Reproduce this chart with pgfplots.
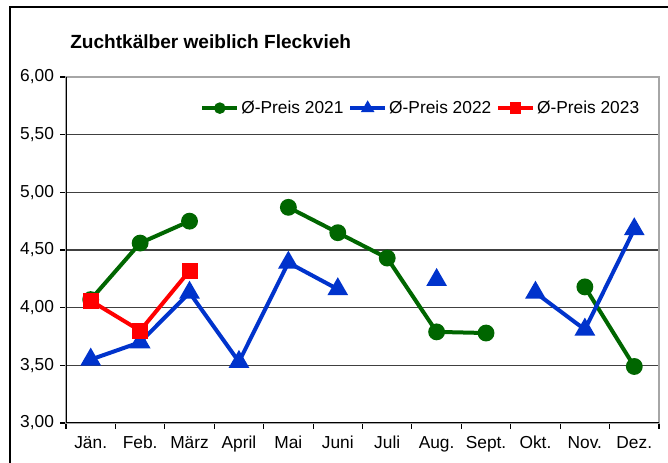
\documentclass[border=0pt]{standalone}
\usepackage{pgfplots}
\pgfplotsset{compat=1.18}
\usepackage{fontspec}
\setmainfont{Liberation Sans}
\definecolor{cgreen}{RGB}{0,102,0}
\definecolor{cblue}{RGB}{0,51,204}
\definecolor{cred}{RGB}{255,0,0}
\begin{document}
\begin{tikzpicture}[x=0.75pt,y=0.75pt]
\useasboundingbox (0,0) rectangle (668,463);
\draw[black, line width=1.1pt] (10,0) -- (10,456) -- (668,456);
\node[anchor=west, inner sep=0pt, font=\fontsize{14.3}{17}\selectfont\bfseries] at (70,421) {Zuchtkälber weiblich Fleckvieh};
\begin{axis}[
  at={(49.5pt,30pt)}, anchor=south west,
  scale only axis,
  width=444.75pt, height=259.5pt,
  xmin=0, xmax=12, ymin=3, ymax=6,
  xtick={0,...,12},
  x tick label as interval,
  xticklabels={Jän.,Feb.,März,April,Mai,Juni,Juli,Aug.,Sept.,Okt.,Nov.,Dez.},
  ytick={3,3.5,...,6},
  xtick pos=bottom, ytick pos=left,
  tick align=outside,
  major tick length=4.5pt,
  tick style={black, line width=0.8pt},
  ymajorgrids,
  grid style={black!75, line width=0.8pt},
  axis line style={draw=gray!70, line width=1pt},
  /pgf/number format/assume math mode=true,
  yticklabel style={/pgf/number format/fixed, /pgf/number format/fixed zerofill, /pgf/number format/precision=2, /pgf/number format/use comma, xshift=-1pt},
  ticklabel style={font=\fontsize{13}{15}\selectfont},
  xticklabel style={yshift=-2pt},
  unbounded coords=jump,
  legend columns=3,
  legend style={at={(rel axis cs:0.226,0.91)}, anchor=west, draw=none, fill=none,
     font=\fontsize{13}{15}\selectfont, inner sep=0pt,
     nodes={inner xsep=1.5pt},
     /tikz/every even column/.append style={column sep=2pt}},
  legend cell align=left,
  legend image code/.code={\draw[mark repeat=2, mark phase=2, #1, line width=3.3pt, mark size=2.6pt] plot coordinates {(0pt,0pt) (13pt,0pt) (26pt,0pt)};},
]
\addplot[cgreen, line width=3pt, mark=*, mark size=4.8pt, mark options={solid}] coordinates {
 (0.5,4.07) (1.5,4.56) (2.5,4.75) (3.5,nan) (4.5,4.87) (5.5,4.65) (6.5,4.43) (7.5,3.79) (8.5,3.78) (9.5,nan) (10.5,4.18) (11.5,3.49)};
\addlegendentry{Ø-Preis 2021}
\addplot[cblue, line width=3pt, mark=triangle*, mark size=6pt, mark options={solid}] coordinates {
 (0.5,3.55) (1.5,3.70) (2.5,4.13) (3.5,3.53) (4.5,4.39) (5.5,4.16) (6.5,nan) (7.5,4.24) (8.5,nan) (9.5,4.13) (10.5,3.81) (11.5,4.68)};
\addlegendentry{Ø-Preis 2022}
\addplot[cred, line width=3pt, mark=square*, mark size=4.5pt, mark options={solid}] coordinates {
 (0.5,4.06) (1.5,3.80) (2.5,4.32)};
\addlegendentry{Ø-Preis 2023}
\draw[black, line width=1pt] (rel axis cs:0,1) -- (rel axis cs:0,0) -- (rel axis cs:1,0);
\end{axis}
\end{tikzpicture}
\end{document}
